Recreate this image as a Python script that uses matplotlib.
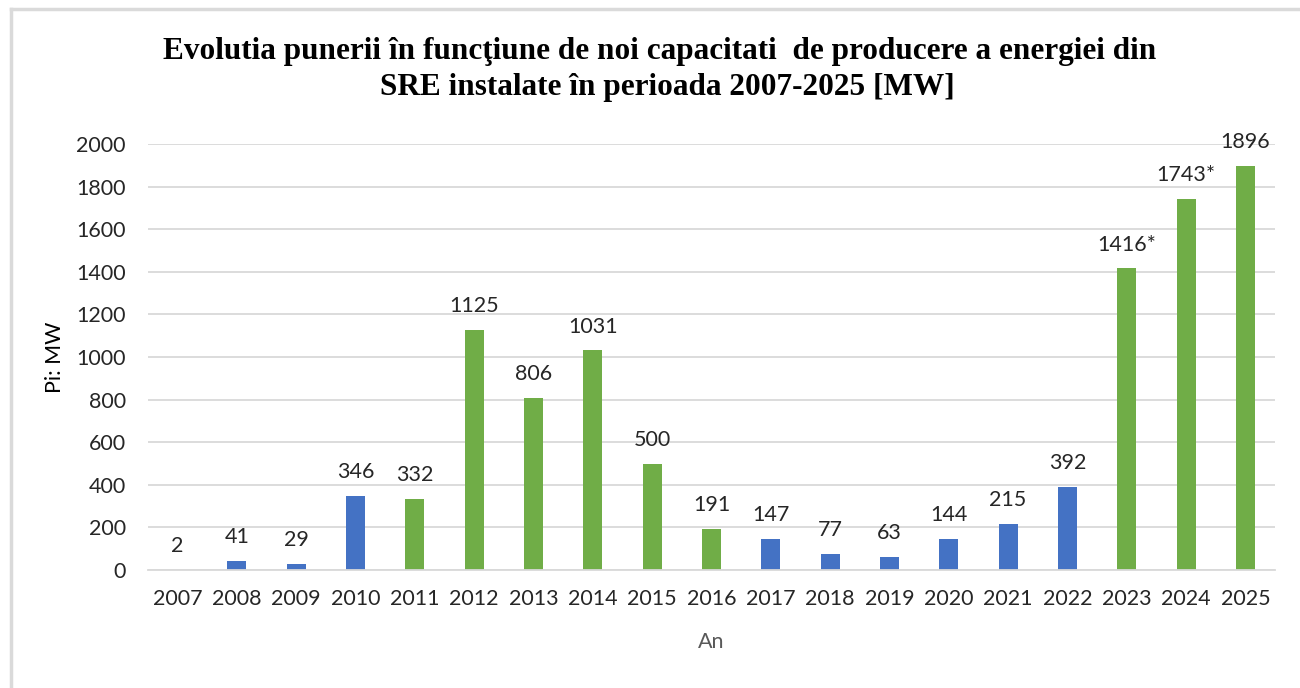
import numpy as np
import matplotlib.pyplot as plt
from matplotlib.lines import Line2D

years = ["2007", "2008", "2009", "2010", "2011", "2012", "2013", "2014", "2015", "2016",
         "2017", "2018", "2019", "2020", "2021", "2022", "2023", "2024", "2025"]
values = [2, 41, 29, 346, 332, 1125, 806, 1031, 500, 191,
          147, 77, 63, 144, 215, 392, 1416, 1743, 1896]
labels = ["2", "41", "29", "346", "332", "1125", "806", "1031", "500", "191",
          "147", "77", "63", "144", "215", "392", "1416*", "1743*", "1896"]
# g = green bar, b = blue bar
groups = ["b", "b", "b", "b", "g", "g", "g", "g", "g", "g",
          "b", "b", "b", "b", "b", "b", "g", "g", "g"]

blue = "#4472C4"
green = "#70AD47"
colors = [green if g == "g" else blue for g in groups]

plt.rcParams['font.family'] = ['Lato', 'DejaVu Sans']

fig = plt.figure(figsize=(13, 6.88), dpi=100)
ax = fig.add_axes([148 / 1300, 1 - 570 / 688, 1127 / 1300, 426 / 688])

x = np.arange(len(years))
ax.bar(x, values, width=0.32, color=colors, zorder=2)

for xi, v, lab in zip(x, values, labels):
    ax.annotate(lab, (xi, v), xytext=(0, 10), textcoords="offset points",
                ha="center", va="bottom", fontsize=15.5, color="#262626")

ax.set_xlim(-0.5, len(years) - 0.5)
ax.set_ylim(0, 2000)
ax.set_yticks(np.arange(0, 2001, 200))
ax.set_xticks(x)
ax.set_xticklabels(years)
ax.tick_params(length=0, labelsize=15.5, colors="#262626")
ax.tick_params(axis="x", pad=14)
ax.tick_params(axis="y", pad=16)
ax.grid(axis="y", color="#D9D9D9", linewidth=1.3, zorder=0)
for s in ["top", "right", "left"]:
    ax.spines[s].set_visible(False)
ax.spines["bottom"].set_color("#D9D9D9")
ax.spines["bottom"].set_linewidth(1.3)

ax.set_xlabel("An", fontsize=15.5, color="#595959", labelpad=16)
ax.set_ylabel("Pi: MW", fontsize=15.5, color="#000000", labelpad=8)

fig.text(660 / 1300, 1 - 52 / 688, "Evolutia punerii în funcţiune de noi capacitati  de producere a energiei din",
         ha="center", va="center", fontsize=22.5, fontweight="bold", family="Liberation Serif")
fig.text(667 / 1300, 1 - 88 / 688, "SRE instalate în perioada 2007-2025 [MW]",
         ha="center", va="center", fontsize=22.5, fontweight="bold", family="Liberation Serif")

# chart frame (top and left edges visible)
fig.add_artist(Line2D([11 / 1300, 1], [1 - 9 / 688, 1 - 9 / 688], color="#DADADA", lw=2.5))
fig.add_artist(Line2D([11 / 1300, 11 / 1300], [0, 1 - 9 / 688], color="#DADADA", lw=2.5))

fig.savefig("out.png", dpi=100)
